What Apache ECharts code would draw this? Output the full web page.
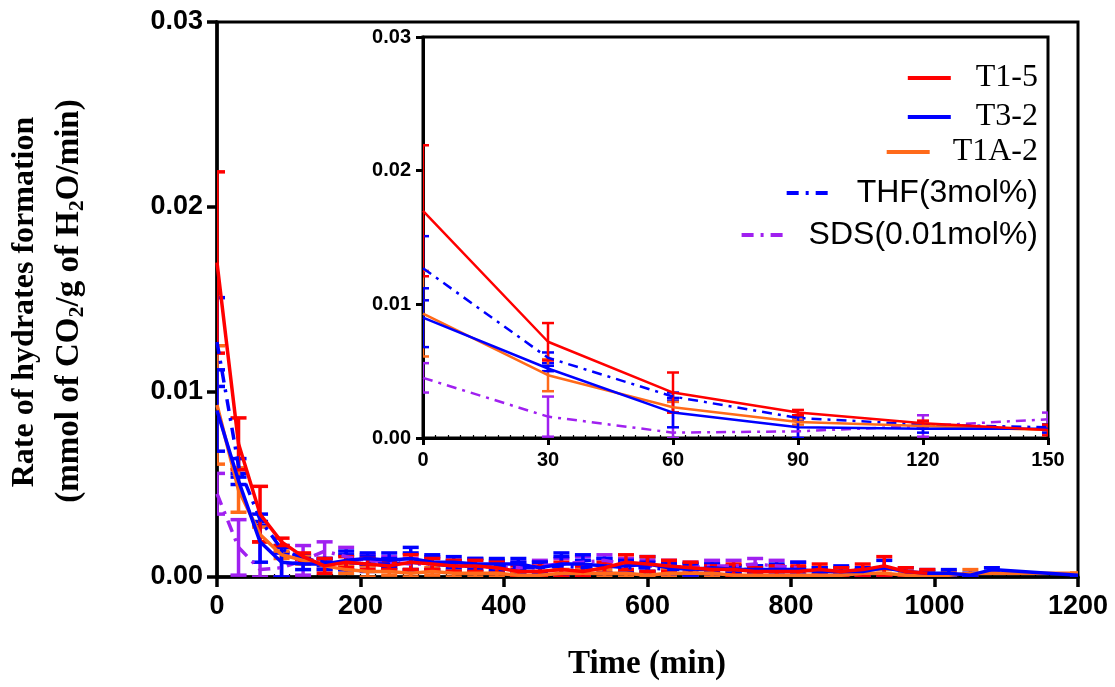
<!DOCTYPE html>
<html>
<head>
<meta charset="utf-8">
<script src="https://cdn.jsdelivr.net/npm/echarts@6/dist/echarts.min.js"></script>
<style>
html,body{margin:0;padding:0;background:#fff;}
#chart{width:1115px;height:687px;}
</style>
</head>
<body>
<div id="chart"></div>
<script>
// ---------- data ----------
const seriesNames = ['T1-5', 'T3-2', 'T1A-2', 'THF(3mol%)', 'SDS(0.01mol%)'];

const t1_5Time = [0,30,60,90,120,150,180,210,240,270,300,330,360,390,420,450,480,510,540,570,600,630,660,690,720,750,780,810,840,870,900,930,960,990];
const t1_5Rate = [0.0170,0.0072,0.0034,0.0019,0.0011,0.0006,0.0008,0.0007,0.0006,0.0008,0.0007,0.0006,0.0006,0.0005,0.0003,0.0003,0.0004,0.0003,0.0005,0.0008,0.0007,0.0006,0.0005,0.0004,0.0004,0.0003,0.0003,0.0003,0.0004,0.0003,0.0004,0.0006,0.0003,0.0002];
const t1_5Err  = [0.0049,0.0014,0.0015,0.0002,0.0002,0.0004,0.0003,0.0003,0.0002,0.0004,0.0003,0.0003,0.0003,0.0003,0.0003,0.0003,0.0004,0.0003,0.0003,0.0004,0.0004,0.0003,0.0003,0.0002,0.0003,0.0002,0.0003,0.0003,0.0003,0.0002,0.0003,0.0005,0.0002,0.0002];

const t3_2Time = [0,30,60,90,120,150,180,210,240,270,300,330,360,390,420,450,480,510,540,570,600,630,660,690,720,750,780,810,840,870,900,930,960,990,1020,1050,1080,1200];
const t3_2Rate = [0.0090,0.0052,0.0019,0.0008,0.0007,0.0007,0.0009,0.0010,0.0009,0.0010,0.0008,0.0008,0.0007,0.0007,0.0007,0.0005,0.0007,0.0007,0.0006,0.0006,0.0007,0.0005,0.0004,0.0005,0.0004,0.0004,0.0004,0.0004,0.0003,0.0003,0.0003,0.0005,0.0003,0.0002,0.0002,0.0001,0.0004,0.0001];
const t3_2Err  = [0.0022,0.0002,0.0011,0.0008,0.0003,0.0003,0.0005,0.0003,0.0004,0.0006,0.0004,0.0003,0.0003,0.0003,0.0003,0.0003,0.0006,0.0005,0.0004,0.0003,0.0004,0.0003,0.0003,0.0002,0.0002,0.0002,0.0003,0.0004,0.0002,0.0002,0.0002,0.0004,0.0002,0.0002,0.0002,0.0001,0.0001,0];

const t1a_2Time = [0,30,60,90,120,150,180,210,240,270,300,330,360,390,420,450,480,510,540,570,600,630,660,690,720,750,780,810,840,870,900,930,960,990,1020,1050,1200];
const t1a_2Rate = [0.0093,0.0047,0.0023,0.0012,0.0009,0.0006,0.0004,0.0003,0.0003,0.0002,0.0003,0.0002,0.0002,0.0002,0.0001,0.0001,0.0002,0.0002,0.0002,0.0002,0.0001,0.0002,0.0002,0.0002,0.0001,0.0001,0.0001,0.0001,0.0001,0.0001,0.0002,0.0002,0.0001,0.0001,0.0001,0.0002,0.0002];
const t1a_2Err  = [0.0032,0.0012,0.0004,0.0002,0.0002,0.0002,0.0002,0.0003,0.0002,0.0002,0.0002,0.0002,0.0002,0.0002,0.0002,0.0002,0.0002,0.0002,0.0002,0.0002,0.0002,0.0002,0.0002,0.0002,0.0002,0.0002,0.0002,0.0002,0.0002,0.0002,0.0002,0.0002,0.0002,0.0002,0.0002,0.0002,0];

const thfTime = [0,30,60,90,120,150,180,210,240,270,300,330,360,390,420,450,480,510,540,570,600,630,660,690,720,750,780,810,840,870,900];
const thfRate = [0.0127,0.0060,0.0031,0.0015,0.0010,0.0008,0.0008,0.0007,0.0007,0.0008,0.0007,0.0006,0.0006,0.0006,0.0005,0.0005,0.0006,0.0005,0.0006,0.0005,0.0005,0.0004,0.0004,0.0004,0.0004,0.0004,0.0003,0.0003,0.0003,0.0003,0.0002];
const thfErr  = [0.0024,0.0004,0.0003,0.0002,0.0002,0.0002,0.0004,0.0004,0.0003,0.0005,0.0004,0.0003,0.0004,0.0003,0.0003,0.0003,0.0005,0.0004,0.0004,0.0003,0.0003,0.0003,0.0003,0.0003,0.0002,0.0002,0.0003,0.0002,0.0002,0.0003,0.0002];

const sdsTime = [0,30,60,90,120,150,180,210,240,270,300,330,360,390,420,450,480,510,540,570,600,630,660,690,720,750,780,810];
const sdsRate = [0.0045,0.0016,0.0004,0.0005,0.0009,0.0014,0.0011,0.0009,0.0008,0.0007,0.0007,0.0006,0.0006,0.0005,0.0005,0.0006,0.0007,0.0008,0.0009,0.0007,0.0006,0.0006,0.0005,0.0006,0.0006,0.0007,0.0006,0.0005];
const sdsErr  = [0.0011,0.0015,0.0015,0.0008,0.0008,0.0005,0.0005,0.0003,0.0003,0.0003,0.0003,0.0003,0.0003,0.0003,0.0003,0.0003,0.0003,0.0003,0.0003,0.0003,0.0003,0.0003,0.0003,0.0003,0.0003,0.0003,0.0003,0.0003];

const mainXTicks = [0, 1200, 200];
const insetXTicks = [0, 150, 30];
const yTicks = [0, 0.03, 0.01];

// ---------- styling ----------
const colors = {'T1-5':'#FF0000','T3-2':'#0000FF','T1A-2':'#FF6A1A','THF(3mol%)':'#0000FF','SDS(0.01mol%)':'#A020F0'};
const sets = [
  {name:'SDS(0.01mol%)', t:sdsTime, v:sdsRate, e:sdsErr, dash:true},
  {name:'THF(3mol%)', t:thfTime, v:thfRate, e:thfErr, dash:true},
  {name:'T1A-2', t:t1a_2Time, v:t1a_2Rate, e:t1a_2Err, dash:false},
  {name:'T3-2', t:t3_2Time, v:t3_2Rate, e:t3_2Err, dash:false},
  {name:'T1-5', t:t1_5Time, v:t1_5Rate, e:t1_5Err, dash:false}
];

function errRender(color, cap, lw) {
  return function (params, api) {
    const x = api.value(0), v = api.value(1), e = api.value(2);
    const lo = Math.max(0, v - e), hi = v + e;
    const a = api.coord([x, hi]), b = api.coord([x, lo]);
    const st = {stroke: color, lineWidth: lw};
    return {type:'group', children:[
      {type:'line', shape:{x1:a[0], y1:a[1], x2:b[0], y2:b[1]}, style:st},
      {type:'line', shape:{x1:a[0]-cap/2, y1:a[1], x2:a[0]+cap/2, y2:a[1]}, style:st},
      {type:'line', shape:{x1:b[0]-cap/2, y1:b[1], x2:b[0]+cap/2, y2:b[1]}, style:st}
    ]};
  };
}

const series = [];
function addSeries(gridIdx, xMax, lw, elw, cap, dashArr) {
  sets.forEach(s => {
    const pts = [];
    s.t.forEach((t, i) => { if (t <= xMax) pts.push([t, s.v[i], s.e[i]]); });
    const c = colors[s.name];
    series.push({
      type:'line', name:s.name, xAxisIndex:gridIdx*2, yAxisIndex:gridIdx,
      data: pts.map(p => [p[0], p[1]]), symbol:'none', silent:true, animation:false,
      lineStyle:{color:c, width:lw, type: s.dash ? dashArr : 'solid'}, itemStyle:{color:c}, z:3
    });
    series.push({
      type:'custom', name:s.name + ' err', xAxisIndex:gridIdx*2, yAxisIndex:gridIdx,
      data: pts, renderItem: errRender(c, cap, elw), encode:{x:0, y:1}, silent:true, animation:false, clip:true, z:3
    });
  });
}
addSeries(0, 1200, 3.5, 3.5, 16, [12, 7, 3, 7]);
addSeries(1, 150, 2.5, 2.5, 12, [10, 6, 3, 6]);

const labelFont = '"Liberation Sans", Arial, sans-serif';
const serif = '"Liberation Serif", "Times New Roman", serif';

function xAxisPair(gridIdx, ticks, minorInt, fs, tickLen, margin, lw) {
  return [{
    type:'value', gridIndex:gridIdx, min:ticks[0], max:ticks[1], interval:ticks[2],
    axisLine:{show:true, onZero:false, lineStyle:{color:'#000', width:lw}},
    axisTick:{show:true, inside:false, length:tickLen, lineStyle:{color:'#000', width:lw}},
    axisLabel:{color:'#000', fontFamily:labelFont, fontWeight:'bold', fontSize:fs, margin:margin, formatter:v=>String(v)},
    splitLine:{show:false}
  }, {
    type:'value', gridIndex:gridIdx, min:ticks[0], max:ticks[1], interval:minorInt, position:'bottom',
    axisLine:{show:false}, axisLabel:{show:false}, splitLine:{show:false},
    axisTick:{show:true, inside:true, length:3, lineStyle:{color:'#000', width:1.2}}
  }];
}

const option = {
  backgroundColor:'#fff',
  animation:false,
  grid:[
    {left:217, right:37, top:22, bottom:110, show:true, borderColor:'#000', borderWidth:3, backgroundColor:'transparent'},
    {left:423, right:67, top:37, bottom:249, show:true, borderColor:'#000', borderWidth:3, backgroundColor:'transparent'}
  ],
  xAxis: [].concat(
    xAxisPair(0, mainXTicks, 20, 27, 10, 16, 3.5),
    xAxisPair(1, insetXTicks, 3, 20, 7, 12, 3)
  ),
  yAxis:[
    {type:'value', gridIndex:0, min:yTicks[0], max:yTicks[1], interval:yTicks[2],
     axisLine:{show:true, lineStyle:{color:'#000', width:3.5}},
     axisTick:{show:true, inside:false, length:10, lineStyle:{color:'#000', width:3.5}},
     axisLabel:{color:'#000', fontFamily:labelFont, fontWeight:'bold', fontSize:27, margin:14, formatter:v=>v.toFixed(2)},
     splitLine:{show:false}},
    {type:'value', gridIndex:1, min:yTicks[0], max:yTicks[1], interval:yTicks[2],
     axisLine:{show:true, lineStyle:{color:'#000', width:3}},
     axisTick:{show:true, inside:false, length:7, lineStyle:{color:'#000', width:3}},
     axisLabel:{color:'#000', fontFamily:labelFont, fontWeight:'bold', fontSize:20, margin:12, formatter:v=>v.toFixed(2)},
     splitLine:{show:false}}
  ],
  legend: [
    {name:'T1-5', top:56, font:serif, pad:20, w:43},
    {name:'T3-2', top:95, font:serif, pad:20, w:43},
    {name:'T1A-2', top:130, font:serif, pad:18, w:43},
    {name:'THF(3mol%)', top:171, font:labelFont, pad:24, w:41},
    {name:'SDS(0.01mol%)', top:213, font:labelFont, pad:21, w:41}
  ].map(l => ({
    data:[l.name], right:72, top:l.top, orient:'vertical', selectedMode:false,
    itemWidth:l.w, itemHeight:14,
    itemStyle:{opacity:0, borderWidth:0},
    lineStyle:{width:4},
    textStyle:{fontFamily:l.font, fontSize:32, color:'#000', lineHeight:34, padding:[0,0,0,l.pad]}
  })),
  graphic:[
    {type:'text', x:25, y:302, rotation:Math.PI/2,
     style:{text:'Rate of hydrates formation', font:'bold 32px ' + serif, fill:'#000', textAlign:'center', textVerticalAlign:'middle'}},
    {type:'text', x:69, y:301, rotation:Math.PI/2,
     style:{text:'{a|(mmol of CO}{s|2}{a|/g of H}{s|2}{a|O/min)}', textAlign:'center', textVerticalAlign:'middle',
       rich:{a:{fontFamily:serif, fontWeight:'bold', fontSize:33, fill:'#000'},
             s:{fontFamily:serif, fontWeight:'bold', fontSize:22, fill:'#000', padding:[16,0,0,0]}}}},
    {type:'text', x:647, y:664,
     style:{text:'Time (min)', font:'bold 33px ' + serif, fill:'#000', textAlign:'center', textVerticalAlign:'middle'}}
  ],
  series: series
};

const chart = echarts.init(document.getElementById('chart'), null, {renderer:'canvas'});
chart.setOption(option);
</script>
</body>
</html>
